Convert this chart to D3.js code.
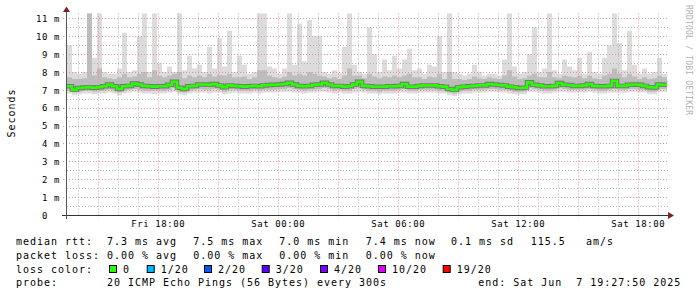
<!DOCTYPE html>
<html>
<head>
<meta charset="utf-8">
<script src="https://cdn.jsdelivr.net/npm/d3@7"></script>
<style>
  body { margin: 0; background: #fff; }
  svg { display: block; }
  text { font-family: "DejaVu Sans Mono", monospace; fill: #000; white-space: pre; }
</style>
</head>
<body>
<div class="main"></div>
<script>
// 15 minute samples, Fri 13:27:50 -> Sat 19:27:50 (UTC used as wall clock)
const startTime = Date.UTC(2025, 5, 6, 13, 27, 50),
      endTime = Date.UTC(2025, 5, 7, 19, 27, 50),
      stepMs = 15 * 60 * 1000;

// values in ms
const medianV = [7.2,7.0,7.1,7.13,7.15,7.12,7.15,7.2,7.3,7.2,
  7.05,7.2,7.22,7.35,7.3,7.22,7.2,7.18,7.2,7.2,
  7.28,7.45,7.12,7.05,7.2,7.22,7.3,7.3,7.28,7.33,
  7.25,7.15,7.25,7.22,7.2,7.18,7.2,7.22,7.2,7.25,
  7.27,7.28,7.3,7.33,7.4,7.3,7.22,7.2,7.22,7.28,
  7.3,7.4,7.3,7.22,7.22,7.18,7.2,7.3,7.45,7.22,
  7.2,7.17,7.17,7.18,7.2,7.2,7.22,7.33,7.18,7.17,
  7.22,7.25,7.25,7.25,7.2,7.18,7.05,7.0,7.15,7.18,
  7.2,7.22,7.25,7.25,7.33,7.3,7.27,7.25,7.18,7.15,
  7.1,7.12,7.42,7.28,7.25,7.2,7.2,7.22,7.38,7.28,
  7.27,7.22,7.22,7.25,7.33,7.22,7.2,7.2,7.22,7.5,
  7.22,7.22,7.28,7.3,7.28,7.22,7.15,7.13,7.3,7.28];

const maxV = [9.5,8.0,7.9,8.0,11.3,8.8,11.3,8.0,7.9,7.9,
  8.2,10.2,8.0,8.1,10.0,11.3,8.0,11.3,8.5,8.0,
  8.3,8.0,11.3,8.1,8.9,8.2,8.4,8.0,9.4,8.2,
  9.9,8.3,10.3,8.0,8.9,8.4,7.9,8.0,11.3,11.3,
  8.3,8.2,7.9,8.2,11.3,8.4,10.7,8.6,10.9,10.0,
  10.0,8.0,7.9,8.1,7.9,9.4,11.3,8.4,8.0,7.9,
  10.5,9.0,8.0,8.7,8.1,8.9,8.2,8.7,9.3,8.1,
  8.2,7.9,8.4,8.3,10.0,8.0,11.3,8.0,7.9,7.8,
  7.9,8.4,8.0,7.8,7.9,7.9,7.8,8.7,11.3,8.3,
  7.9,8.0,9.0,10.5,8.0,8.2,11.3,8.1,7.9,8.7,
  8.3,8.1,8.8,7.9,9.1,8.0,7.9,8.8,9.5,11.3,
  9.6,8.1,10.3,8.4,7.9,8.2,7.9,8.0,8.8,7.9];

const upperV = [7.7,7.6,7.6,7.65,11.3,7.8,8.2,7.7,7.65,7.6,
  7.7,7.9,7.7,7.75,7.9,8.0,7.7,8.1,7.8,7.7,
  7.8,7.9,8.0,7.65,7.8,7.7,7.8,7.7,7.9,7.75,
  7.85,7.8,7.9,7.7,7.7,7.75,7.6,7.7,8.1,8.1,
  7.8,7.7,7.65,7.75,8.0,7.8,7.9,7.8,8.0,7.9,
  7.8,7.75,7.65,7.7,7.6,7.8,8.2,7.8,7.8,7.65,
  7.9,7.75,7.65,7.75,7.7,7.8,7.7,7.8,7.9,7.7,
  7.7,7.6,7.75,7.7,7.9,7.6,8.0,7.6,7.6,7.55,
  7.6,7.75,7.65,7.6,7.7,7.65,7.6,7.8,8.1,7.75,
  7.6,7.65,7.8,7.9,7.7,7.7,8.0,7.7,7.65,7.8,
  7.75,7.7,7.8,7.65,7.8,7.65,7.6,7.8,7.9,8.2,
  7.9,7.7,7.9,7.75,7.6,7.7,7.6,7.65,7.8,7.7];

const lowerV = [6.95,6.85,6.9,6.95,6.95,6.9,6.95,6.95,7.0,6.95,
  6.85,6.95,7.0,7.05,7.0,6.95,6.95,6.95,6.95,6.95,
  7.0,7.1,6.9,6.85,6.95,7.0,7.05,7.0,7.0,7.05,
  7.0,6.9,7.0,7.0,6.95,6.95,6.95,7.0,6.95,7.0,
  7.0,7.0,7.05,7.05,7.1,7.05,7.0,6.95,7.0,7.0,
  7.05,7.1,7.05,6.95,7.0,6.95,6.95,7.05,7.1,7.0,
  6.95,6.95,6.9,6.95,6.95,6.95,7.0,7.05,6.95,6.95,
  7.0,7.0,7.0,7.0,6.95,6.95,6.85,6.8,6.9,6.95,
  6.95,7.0,7.0,7.0,7.05,7.05,7.0,7.0,6.95,6.9,
  6.9,6.9,7.1,7.05,7.0,6.95,6.95,7.0,7.1,7.05,
  7.0,7.0,7.0,7.0,7.05,7.0,6.95,6.95,7.0,7.05,
  7.0,7.0,7.05,7.05,7.0,7.0,6.9,6.9,7.05,7.05];

const minV = [6.8,6.7,6.75,6.8,6.8,6.75,6.8,6.8,6.85,6.8,
  6.7,6.8,6.85,6.9,6.85,6.8,6.8,6.75,6.8,6.8,
  6.85,6.9,6.75,6.7,6.8,6.85,6.85,6.85,6.8,6.85,
  6.85,6.75,6.8,6.85,6.8,6.8,6.8,6.85,6.8,6.85,
  6.85,6.85,6.9,6.9,6.9,6.85,6.85,6.8,6.85,6.85,
  6.9,6.9,6.85,6.8,6.85,6.8,6.8,6.85,6.9,6.85,
  6.8,6.8,6.75,6.8,6.8,6.8,6.85,6.85,6.8,6.8,
  6.85,6.85,6.85,6.85,6.8,6.8,6.7,6.65,6.75,6.8,
  6.8,6.85,6.85,6.85,6.9,6.9,6.85,6.85,6.8,6.75,
  6.75,6.75,6.9,6.9,6.85,6.8,6.8,6.85,6.9,6.9,
  6.85,6.85,6.85,6.85,6.9,6.85,6.8,6.8,6.85,6.85,
  6.85,6.85,6.9,6.9,6.85,6.85,6.75,6.75,6.9,6.9];

const yTicks = [0,1,2,3,4,5,6,7,8,9,10,11];
const yMinorTicks = [0.5,1.5,2.5,3.5,4.5,5.5,6.5,7.5,8.5,9.5,10.5];

const legendLines = [
  {y: 245.3, items: [[16, "median rtt:"], [107, "7.3 ms avg"], [193.3, "7.5 ms max"], [279.3, "7.0 ms min"], [365.7, "7.4 ms now"], [451, "0.1 ms sd"], [530.7, "115.5"], [586, "am/s"]]},
  {y: 259, items: [[16, "packet loss:"], [107, "0.00 % avg"], [193.3, "0.00 % max"], [279.3, "0.00 % min"], [365.7, "0.00 % now"]]},
  {y: 272.7, items: [[16, "loss color:"]]},
  {y: 286.3, items: [[16, "probe:"], [107, "20 ICMP Echo Pings (56 Bytes) every 300s"], [478.3, "end: Sat Jun  7 19:27:50 2025"]]}
];
const lossLabels = ["0", "1/20", "2/20", "3/20", "4/20", "10/20", "19/20"];
const lossColors = ["#26ff00", "#00b8ff", "#0059ff", "#5e00ff", "#7e00ff", "#dd00ff", "#ff0000"];
const lossBoxX = [109, 146.7, 204, 261.7, 320, 378, 442.7];

const W = 697, H = 297,
      plot = {left: 67, right: 667, top: 13.5, bottom: 215};

let svg = d3.select(".main").append("svg")
    .attr("width", W)
    .attr("height", H);

let x = d3.scaleUtc().domain([startTime, endTime]).range([plot.left, plot.right]),
    y = d3.scaleLinear().domain([0, 11.27]).range([plot.bottom, plot.top]);

// samples (repeat last one at the end so steps reach the right edge)
let samples = medianV.map((m, i) => ({
  t: startTime + i * stepMs, med: m, max: maxV[i], up: upperV[i], lo: lowerV[i], min: minV[i]
}));
samples.push(Object.assign({}, samples[samples.length - 1], {t: endTime}));

svg.append("defs").append("clipPath").attr("id", "clip")
  .append("rect")
    .attr("x", plot.left).attr("y", plot.top)
    .attr("width", plot.right - plot.left).attr("height", plot.bottom - plot.top);

// smoke
let smoke = svg.append("g").attr("clip-path", "url(#clip)");
smoke.append("path")
    .datum(samples)
    .attr("fill", "#dcdcdc")
    .attr("d", d3.area().curve(d3.curveStepAfter)
      .x(d => x(d.t)).y0(d => y(d.min)).y1(d => y(d.max)));
smoke.append("path")
    .datum(samples)
    .attr("fill", "#bdbdbd")
    .attr("d", d3.area().curve(d3.curveStepAfter)
      .x(d => x(d.t)).y0(d => y(d.lo)).y1(d => y(d.up)));

// grid
let grid = svg.append("g").attr("class", "grid");
grid.selectAll(".hminor").data(yMinorTicks).enter().append("line")
    .attr("x1", plot.left).attr("x2", plot.right + 1)
    .attr("y1", d => Math.round(y(d)) + 0.5).attr("y2", d => Math.round(y(d)) + 0.5)
    .attr("stroke", "#b4b4b4").attr("stroke-dasharray", "1,2");
grid.selectAll(".vminor").data(x.ticks(d3.utcHour.every(1)).filter(d => d.getUTCHours() % 3 != 0)).enter().append("line")
    .attr("x1", d => Math.round(x(d)) + 0.5).attr("x2", d => Math.round(x(d)) + 0.5)
    .attr("y1", plot.top).attr("y2", plot.bottom)
    .attr("stroke", "#b4b4b4").attr("stroke-dasharray", "1,2");
grid.selectAll(".hmajor").data(yTicks.filter(d => d > 0)).enter().append("line")
    .attr("x1", plot.left - 4).attr("x2", plot.right + 1)
    .attr("y1", d => Math.round(y(d)) + 0.5).attr("y2", d => Math.round(y(d)) + 0.5)
    .attr("stroke", "#eb9393").attr("stroke-dasharray", "1,2");
grid.selectAll(".vmajor").data(x.ticks(d3.utcHour.every(3))).enter().append("line")
    .attr("x1", d => Math.round(x(d)) + 0.5).attr("x2", d => Math.round(x(d)) + 0.5)
    .attr("y1", plot.top).attr("y2", plot.bottom + 3)
    .attr("stroke", "#eb9393").attr("stroke-dasharray", "1,2");

// median line, colored by loss (all 0 loss here)
let medLine = d3.line().curve(d3.curveStepAfter).x(d => x(d.t)).y(d => y(d.med));
svg.append("path").datum(samples)
    .attr("fill", "none").attr("stroke", "#222").attr("stroke-opacity", 0.45)
    .attr("stroke-width", 4.5).attr("d", medLine);
svg.append("path").datum(samples)
    .attr("fill", "none").attr("stroke", lossColors[0])
    .attr("stroke-width", 2.6).attr("d", medLine);

// axes
svg.append("line")
    .attr("x1", plot.left - 5).attr("x2", plot.right + 2)
    .attr("y1", plot.bottom + 0.5).attr("y2", plot.bottom + 0.5)
    .attr("stroke", "#333");
svg.append("line")
    .attr("x1", plot.left - 0.5).attr("x2", plot.left - 0.5)
    .attr("y1", plot.bottom + 4).attr("y2", 10)
    .attr("stroke", "#555");
svg.append("path")
    .attr("d", `M${plot.right + 1},${plot.bottom - 3}L${plot.right + 7},${plot.bottom + 0.5}L${plot.right + 1},${plot.bottom + 4}Z`)
    .attr("fill", "#801f1f");
svg.append("path")
    .attr("d", `M${plot.left - 4},12L${plot.left - 0.5},6.5L${plot.left + 3},12Z`)
    .attr("fill", "#801f1f");

// y tick labels
let yAxis = svg.append("g")
    .attr("transform", `translate(${plot.left},0)`)
    .call(d3.axisLeft(y).tickValues(yTicks).tickSize(0).tickPadding(7)
      .tickFormat(d => d === 0 ? "0  " : d + " m"));
yAxis.select(".domain").remove();
yAxis.selectAll("text")
    .attr("font-family", "DejaVu Sans Mono")
    .attr("font-size", 9).attr("letter-spacing", 0.6)
    .attr("fill", "#000").attr("dy", "0.36em");

// x tick labels
let xAxis = svg.append("g")
    .attr("transform", `translate(0,${plot.bottom})`)
    .call(d3.axisBottom(x).ticks(d3.utcHour.every(6)).tickSize(0).tickPadding(6)
      .tickFormat(d3.utcFormat("%a %H:%M")));
xAxis.select(".domain").remove();
xAxis.selectAll("text")
    .attr("font-family", "DejaVu Sans Mono")
    .attr("font-size", 9).attr("letter-spacing", 0.6)
    .attr("fill", "#000");

// y title
svg.append("text")
    .attr("transform", "translate(15,113) rotate(-90)")
    .attr("text-anchor", "middle")
    .attr("font-size", 10).attr("letter-spacing", 1)
    .text("Seconds");

// watermark
svg.append("text")
    .attr("transform", "translate(685.5,5) rotate(90)")
    .attr("font-size", 8).attr("letter-spacing", 0.2)
    .style("fill", "#b0b0b0")
    .text("RRDTOOL / TOBI OETIKER");

// legend
let legend = svg.append("g").attr("class", "legend");
legendLines.forEach(function(line) {
  line.items.forEach(function(it) {
    legend.append("text")
        .attr("x", it[0]).attr("y", line.y)
        .attr("font-size", 10).attr("letter-spacing", 0.98)
        .text(it[1]);
  });
});
let lossItems = legend.selectAll(".loss").data(lossLabels).enter().append("g")
    .attr("transform", (d, i) => `translate(${lossBoxX[i]},0)`);
lossItems.append("rect")
    .attr("x", 0.5).attr("y", 265.5).attr("width", 7).attr("height", 7)
    .attr("fill", (d, i) => lossColors[i]).attr("stroke", "#000");
lossItems.append("text")
    .attr("x", 14).attr("y", 272.7)
    .attr("font-size", 10).attr("letter-spacing", 0.98)
    .text(d => d);
</script>
</body>
</html>
